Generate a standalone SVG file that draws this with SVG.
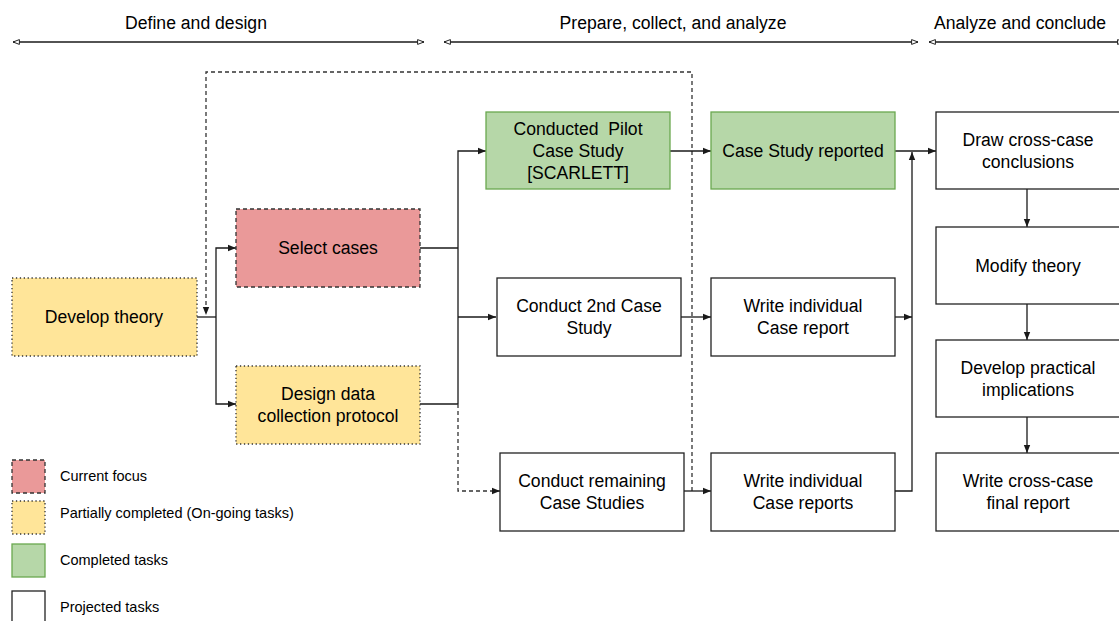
<svg xmlns="http://www.w3.org/2000/svg" width="1119" height="621" viewBox="0 0 1119 621">
  <style>
    text { font-family: "Liberation Sans", Arial, sans-serif; fill: #000; }
    .lbl { font-size: 17.6px; text-anchor: middle; }
    .hdr { font-size: 17.6px; text-anchor: middle; }
    .leg { font-size: 14.5px; }
    .box { stroke: #222; stroke-width: 1.3; fill: #fff; }
    .focus { fill: #ea9999; stroke: #333; stroke-width: 1.3; stroke-dasharray: 4 3; }
    .partial { fill: #ffe599; stroke: #333; stroke-width: 1.3; stroke-dasharray: 1.3 2.6; }
    .done { fill: #b6d7a8; stroke: #6aa84f; stroke-width: 1.3; }
    .wire { fill: none; stroke: #1a1a1a; stroke-width: 1.3; }
    .dash { fill: none; stroke: #333; stroke-width: 1.3; stroke-dasharray: 4 3; }
    .span { fill: none; stroke: #1a1a1a; stroke-width: 1.3; }
  </style>
  <defs>
    <marker id="ah" viewBox="0 0 10 10" refX="10" refY="5" markerWidth="8" markerHeight="8" markerUnits="userSpaceOnUse" orient="auto">
      <path d="M0,1 L10,5 L0,9 Z" fill="#1a1a1a"/>
    </marker>
    <marker id="open" viewBox="0 0 10 10" refX="9" refY="5" markerWidth="8" markerHeight="8" markerUnits="userSpaceOnUse" orient="auto-start-reverse">
      <path d="M1,2 L9,5 L1,8 Z" fill="#fff" stroke="#1a1a1a" stroke-width="1.2"/>
    </marker>
  </defs>

  <!-- phase headers -->
  <g id="phases">
    <text class="hdr" x="196" y="29">Define and design</text>
    <text class="hdr" x="673" y="29">Prepare, collect, and analyze</text>
    <text class="hdr" x="1020" y="29">Analyze and conclude</text>
    <line class="span" x1="13" y1="42" x2="424" y2="42" marker-start="url(#open)" marker-end="url(#open)"/>
    <line class="span" x1="444" y1="42" x2="918" y2="42" marker-start="url(#open)" marker-end="url(#open)"/>
    <line class="span" x1="929" y1="42" x2="1124" y2="42" marker-start="url(#open)" marker-end="url(#open)"/>
  </g>

  <!-- connectors -->
  <g id="connectors">
    <!-- feedback loop -->
    <path class="dash" d="M692,491 V72 H206 V315" marker-end="url(#ah)"/>
    <!-- develop theory fan-out -->
    <path class="wire" d="M197,317 H216"/>
    <path class="wire" d="M216,317 V248 H236" marker-end="url(#ah)"/>
    <path class="wire" d="M216,317 V404 H236" marker-end="url(#ah)"/>
    <!-- into case studies -->
    <path class="wire" d="M420,248 H458"/>
    <path class="wire" d="M420,404 H458"/>
    <path class="wire" d="M458,404 V151 H486" marker-end="url(#ah)"/>
    <path class="wire" d="M458,317 H496" marker-end="url(#ah)"/>
    <path class="dash" d="M458,404 V491 H500" marker-end="url(#ah)"/>
    <!-- case study to report -->
    <path class="wire" d="M670,151 H711" marker-end="url(#ah)"/>
    <path class="wire" d="M681,317 H711" marker-end="url(#ah)"/>
    <path class="wire" d="M684,491 H711" marker-end="url(#ah)"/>
    <!-- reports to conclusions -->
    <path class="wire" d="M895,151 H936" marker-end="url(#ah)"/>
    <path class="wire" d="M895,317 H912" marker-end="url(#ah)"/>
    <path class="wire" d="M895,491 H912 V152" marker-end="url(#ah)"/>
    <!-- conclude column -->
    <path class="wire" d="M1027,189 V227" marker-end="url(#ah)"/>
    <path class="wire" d="M1027,304 V340" marker-end="url(#ah)"/>
    <path class="wire" d="M1027,417 V453" marker-end="url(#ah)"/>
  </g>

  <g id="develop-theory">
    <rect class="partial" x="12" y="278" width="185" height="78"/>
    <text class="lbl" x="104" y="323">Develop theory</text>
  </g>
  <g id="select-cases">
    <rect class="focus" x="236" y="209" width="184" height="78"/>
    <text class="lbl" x="328" y="254">Select cases</text>
  </g>
  <g id="design-protocol">
    <rect class="partial" x="236" y="366" width="184" height="78"/>
    <text class="lbl" x="328" y="400">Design data</text>
    <text class="lbl" x="328" y="422">collection protocol</text>
  </g>
  <g id="pilot-study">
    <rect class="done" x="486" y="112" width="184" height="77"/>
    <text class="lbl" x="578" y="135" style="white-space:pre">Conducted  Pilot</text>
    <text class="lbl" x="578" y="157">Case Study</text>
    <text class="lbl" x="578" y="179">[SCARLETT]</text>
  </g>
  <g id="second-study">
    <rect class="box" x="497" y="278" width="184" height="78"/>
    <text class="lbl" x="589" y="312">Conduct 2nd Case</text>
    <text class="lbl" x="589" y="334">Study</text>
  </g>
  <g id="remaining-studies">
    <rect class="box" x="500" y="453" width="184" height="78"/>
    <text class="lbl" x="592" y="487">Conduct remaining</text>
    <text class="lbl" x="592" y="509">Case Studies</text>
  </g>
  <g id="pilot-report">
    <rect class="done" x="711" y="112" width="184" height="77"/>
    <text class="lbl" x="803" y="157">Case Study reported</text>
  </g>
  <g id="second-report">
    <rect class="box" x="711" y="278" width="184" height="78"/>
    <text class="lbl" x="803" y="312">Write individual</text>
    <text class="lbl" x="803" y="334">Case report</text>
  </g>
  <g id="remaining-reports">
    <rect class="box" x="711" y="453" width="184" height="78"/>
    <text class="lbl" x="803" y="487">Write individual</text>
    <text class="lbl" x="803" y="509">Case reports</text>
  </g>
  <g id="cross-case-conclusions">
    <rect class="box" x="936" y="112" width="184" height="77"/>
    <text class="lbl" x="1028" y="146">Draw cross-case</text>
    <text class="lbl" x="1028" y="168">conclusions</text>
  </g>
  <g id="modify-theory">
    <rect class="box" x="936" y="227" width="184" height="77"/>
    <text class="lbl" x="1028" y="272">Modify theory</text>
  </g>
  <g id="practical-implications">
    <rect class="box" x="936" y="340" width="184" height="77"/>
    <text class="lbl" x="1028" y="374">Develop practical</text>
    <text class="lbl" x="1028" y="396">implications</text>
  </g>
  <g id="final-report">
    <rect class="box" x="936" y="453" width="184" height="78"/>
    <text class="lbl" x="1028" y="487">Write cross-case</text>
    <text class="lbl" x="1028" y="509">final report</text>
  </g>

  <!-- legend -->
  <g id="legend">
    <rect class="focus" x="12" y="460" width="33" height="33"/>
    <text class="leg" x="60" y="481">Current focus</text>
    <rect class="partial" x="12" y="501" width="33" height="33"/>
    <text class="leg" x="60" y="518">Partially completed (On-going tasks)</text>
    <rect class="done" x="12" y="544" width="33" height="33"/>
    <text class="leg" x="60" y="565">Completed tasks</text>
    <rect class="box" x="12" y="591" width="33" height="40"/>
    <text class="leg" x="60" y="612">Projected tasks</text>
  </g>
</svg>
